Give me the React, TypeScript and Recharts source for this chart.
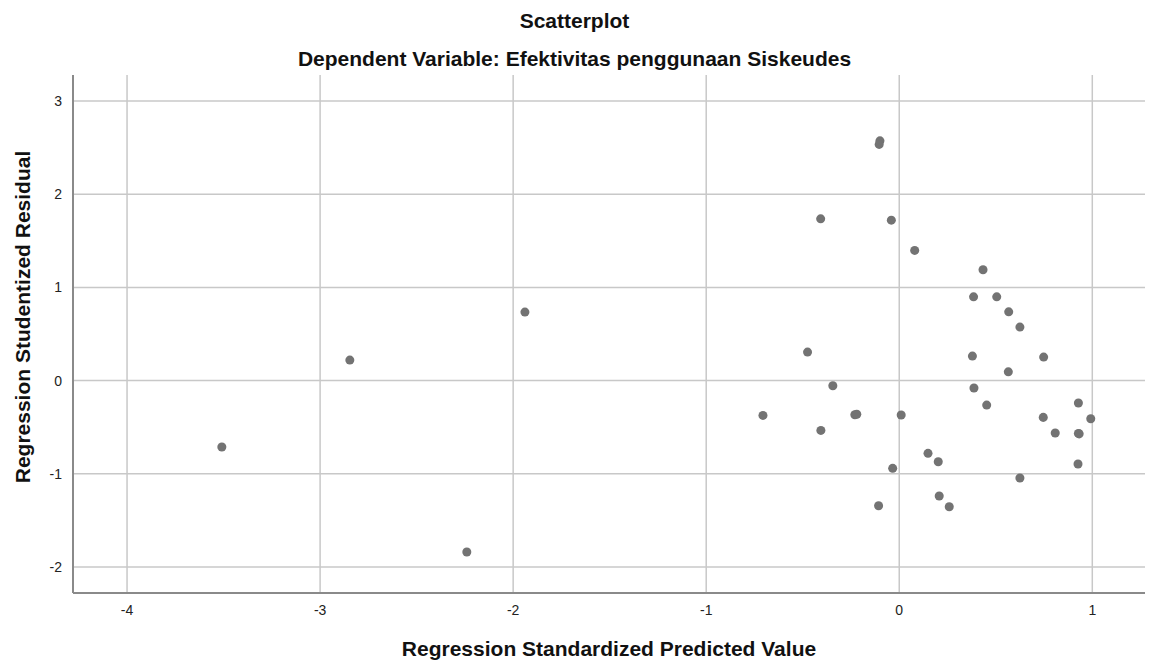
import { ScatterChart, Scatter, XAxis, YAxis, ReferenceLine } from 'recharts';

// Regression Standardized Predicted Value
const predicted = [
	-0.1, -0.104, -0.407, -0.041, 0.08, 0.434, 0.385, 0.505, 0.567, 0.625,
	-0.475, 0.379, 0.748, 0.565, -0.344, 0.387, 0.453, 0.928, -0.706, -0.23,
	-0.22, 0.01, 0.746, 0.992, -0.406, 0.808, 0.928, 0.932, 0.149, 0.202,
	0.926, -0.034, 0.625, 0.207, -0.107, 0.259, -1.939, -2.846, -3.509, -2.24,
];
// Regression Studentized Residual
const residual = [
	2.573, 2.535, 1.736, 1.722, 1.397, 1.189, 0.899, 0.899, 0.738, 0.574,
	0.306, 0.263, 0.252, 0.094, -0.056, -0.08, -0.263, -0.241, -0.374, -0.367,
	-0.362, -0.37, -0.395, -0.41, -0.535, -0.563, -0.567, -0.572, -0.781, -0.871,
	-0.896, -0.942, -1.046, -1.239, -1.343, -1.354, 0.735, 0.22, -0.713, -1.84,
];

const xTicks = [-4, -3, -2, -1, 0, 1];
const yTicks = [-2, -1, 0, 1, 2, 3];

const points = predicted.map((x, i) => ({ x, y: residual[i] }));

const font = 'Arial, "Liberation Sans", sans-serif';
const titleStyle = {
	position: 'absolute' as const,
	width: '100%',
	textAlign: 'center' as const,
	fontWeight: 'bold',
	fontSize: 21,
	lineHeight: '24px',
	color: '#111',
};

export default function App() {
	return (
		<div style={{ position: 'absolute', left: 0, top: 0, width: 1149, height: 663, background: '#fff', fontFamily: font }}>
			<div style={{ ...titleStyle, top: 9 }}>Scatterplot</div>
			<div style={{ ...titleStyle, top: 47 }}>Dependent Variable: Efektivitas penggunaan Siskeudes</div>
			<ScatterChart width={1149} height={663} margin={{ top: 75, right: 4, bottom: 40, left: 0 }}>
				{xTicks.map((t) => (
					<ReferenceLine key={'x' + t} x={t} stroke="#c8c8c8" strokeWidth={1.5} />
				))}
				{yTicks.map((t) => (
					<ReferenceLine key={'y' + t} y={t} stroke="#c8c8c8" strokeWidth={1.5} />
				))}
				<XAxis
					type="number"
					dataKey="x"
					domain={[-4.28, 1.273]}
					ticks={xTicks}
					allowDataOverflow
					height={30}
					tickLine={false}
					axisLine={{ stroke: '#8a8a8a', strokeWidth: 2 }}
					tick={{ fill: '#222', fontSize: 14, fontFamily: font }}
					tickMargin={6}
				/>
				<YAxis
					type="number"
					dataKey="y"
					domain={[-2.28, 3.28]}
					ticks={yTicks}
					allowDataOverflow
					width={73}
					tickLine={false}
					axisLine={{ stroke: '#8a8a8a', strokeWidth: 2 }}
					tick={{ fill: '#222', fontSize: 14, fontFamily: font }}
					tickMargin={5}
				/>
				<Scatter data={points} fill="#737373" shape="circle" isAnimationActive={false} />
			</ScatterChart>
			<div style={{ ...titleStyle, top: 637, left: 73, width: 1072 }}>Regression Standardized Predicted Value</div>
			<div
				style={{
					position: 'absolute',
					left: 23,
					top: 317,
					transform: 'translate(-50%, -50%) rotate(-90deg)',
					whiteSpace: 'nowrap',
					fontWeight: 'bold',
					fontSize: 21,
					lineHeight: '24px',
					color: '#111',
				}}
			>
				Regression Studentized Residual
			</div>
		</div>
	);
}
